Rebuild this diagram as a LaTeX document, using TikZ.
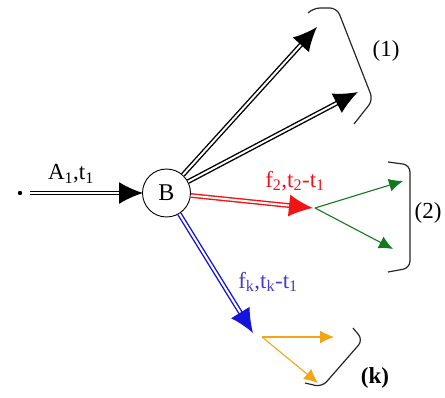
\documentclass[tikz,border=0pt]{standalone}
\usepackage{fontspec}
\setmainfont{Liberation Serif}
\usetikzlibrary{arrows.meta}
\definecolor{myred}{RGB}{240,20,20}
\definecolor{myblue}{RGB}{20,20,220}
\definecolor{lblblue}{RGB}{70,60,200}
\definecolor{mygreen}{RGB}{20,120,30}
\definecolor{myorange}{RGB}{245,165,20}
\tikzset{
  dbl/.style={double, double distance=2pt, line width=1.4pt, -{Latex[length=24pt,width=22pt]}},
  thin arrow/.style={line width=1.1pt, -{Latex[length=14pt,width=13pt]}},
  brk/.style={line width=1.2pt, rounded corners=7pt, black!85},
  lbl/.style={font=\fontsize{23}{27}\selectfont, inner sep=0pt},
}
\begin{document}
\begin{tikzpicture}[x=1pt,y=-1pt]
\useasboundingbox (0,0) rectangle (445,398);
% nodes
\node[circle, draw, line width=0.9pt, minimum size=48pt, inner sep=0pt, font=\fontsize{24}{28}\selectfont] (B) at (166.5,193) {B};
\fill (20,193) circle (2.2pt) coordinate (dot);
\coordinate (s0) at (30,193);
\coordinate (t0) at (143,193);
\coordinate (t1) at (317,27);
\coordinate (t2) at (358,92);
\coordinate (tr) at (313,208);
\coordinate (tb) at (253,333);
\coordinate (g0) at (315,208);
\coordinate (g1) at (403,181);
\coordinate (g2) at (393,249);
\coordinate (o0) at (262,337);
\coordinate (o1) at (334,337);
\coordinate (o2) at (318,383);
% input arrow
\draw[dbl] (s0) -- (t0);
\node[lbl] (lA) at (71,174) {A\textsubscript{1},t\textsubscript{1}};
% outputs
\draw[dbl] (B) -- (t1);
\draw[dbl] (B) -- (t2);
\draw[dbl, myred] (B) -- (tr);
\draw[dbl, myblue] (B) -- (tb);
\node[lbl, myred] (lr) at (295,181) {f\textsubscript{2},t\textsubscript{2}-t\textsubscript{1}};
\node[lbl, lblblue] (lb) at (268,282) {f\textsubscript{k},t\textsubscript{k}-t\textsubscript{1}};
% green
\draw[thin arrow, mygreen] (g0) -- (g1);
\draw[thin arrow, mygreen] (g0) -- (g2);
% orange
\draw[thin arrow, myorange] (o0) -- (o1);
\draw[thin arrow, myorange] (o0) -- (o2);
% brackets
\draw[brk] (308,13) -- (313,8) -- (337,8) -- (373,100) -- (354,124);
\node[lbl] (n1) at (386,51) {(1)};
\draw[brk] (388,162) -- (410,165) -- (410,268) -- (388,272);
\node[lbl] (n2) at (428,213) {(2)};
\draw[brk] (353,328) -- (363,340) -- (322,387) -- (305,383);
\node[lbl, font=\bfseries\fontsize{23}{27}\selectfont] (nk) at (375,378) {(k)};
\end{tikzpicture}
\end{document}
